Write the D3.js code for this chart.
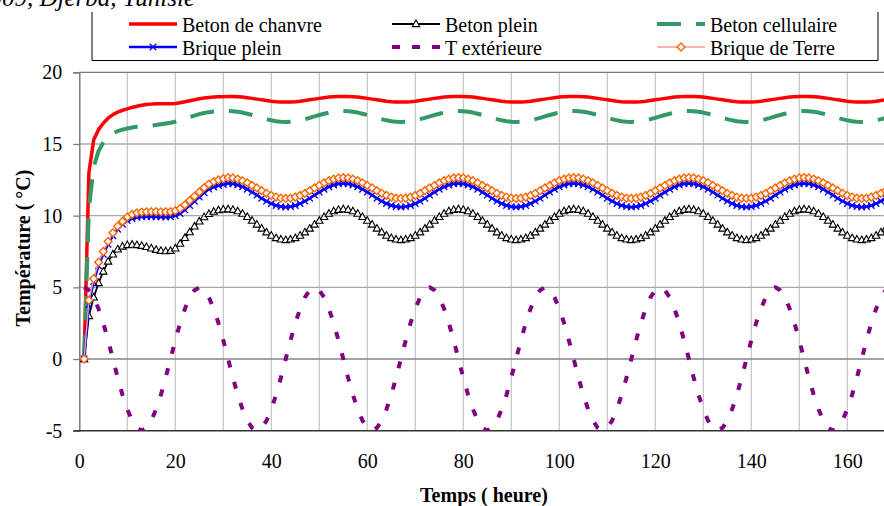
<!DOCTYPE html>
<html><head><meta charset="utf-8">
<script src="https://cdn.jsdelivr.net/npm/d3@7/dist/d3.min.js"></script>
<style>
body{margin:0;background:#fff}
svg{display:block}
text{font-family:"Liberation Serif","Times New Roman",serif;fill:#000}
</style>
</head><body>
<svg id="c" width="884" height="506"></svg>
<script>
// ---------- DATA ----------
const hours = d3.range(1, 170); // sample time (h), one sample per hour
const xTicks = [0, 20, 40, 60, 80, 100, 120, 140, 160];
const yTicks = [-5, 0, 5, 10, 15, 20];
const seriesNames = ["Beton de chanvre", "Beton plein", "Beton cellulaire", "Brique plein", "T extérieure", "Brique de Terre"];

const betonChanvre = [
0, 13.0, 15.3, 16.0, 16.45, 16.8, 17.05, 17.22, 17.35, 17.45, 17.55, 17.63, 17.7, 17.75, 17.78, 17.8, 17.8, 17.8, 17.81, 17.83, 17.88, 17.95, 18.02, 18.08, 18.15, 18.2, 18.24, 18.27, 18.29, 18.3,
18.31, 18.31, 18.3, 18.27, 18.23, 18.18, 18.13, 18.08, 18.03, 17.98, 17.95, 17.93, 17.92, 17.93, 17.95, 17.98, 18.03, 18.08, 18.13, 18.18, 18.23, 18.27, 18.3, 18.31,
18.31, 18.31, 18.3, 18.27, 18.23, 18.18, 18.13, 18.08, 18.03, 17.98, 17.95, 17.93, 17.92, 17.93, 17.95, 17.98, 18.03, 18.08, 18.13, 18.18, 18.23, 18.27, 18.3, 18.31,
18.31, 18.31, 18.3, 18.27, 18.23, 18.18, 18.13, 18.08, 18.03, 17.98, 17.95, 17.93, 17.92, 17.93, 17.95, 17.98, 18.03, 18.08, 18.13, 18.18, 18.23, 18.27, 18.3, 18.31,
18.31, 18.31, 18.3, 18.27, 18.23, 18.18, 18.13, 18.08, 18.03, 17.98, 17.95, 17.93, 17.92, 17.93, 17.95, 17.98, 18.03, 18.08, 18.13, 18.18, 18.23, 18.27, 18.3, 18.31,
18.31, 18.31, 18.3, 18.27, 18.23, 18.18, 18.13, 18.08, 18.03, 17.98, 17.95, 17.93, 17.92, 17.93, 17.95, 17.98, 18.03, 18.08, 18.13, 18.18, 18.23, 18.27, 18.3, 18.31,
18.31, 18.31, 18.3, 18.27, 18.23, 18.18, 18.13, 18.08, 18.03, 17.98, 17.95, 17.93, 17.92, 17.93, 17.95, 17.98, 18.03, 18.08, 18.13
];

const betonPlein = [
0, 3.0, 4.3, 5.3, 6.1, 6.8, 7.3, 7.65, 7.85, 7.95, 7.98, 7.95, 7.9, 7.82, 7.72, 7.62, 7.55, 7.52, 7.55, 7.72, 8.05, 8.45, 8.85, 9.25, 9.6, 9.9, 10.12, 10.28, 10.38, 10.43,
10.45, 10.41, 10.31, 10.14, 9.91, 9.65, 9.38, 9.10, 8.84, 8.61, 8.44, 8.34, 8.30, 8.34, 8.44, 8.61, 8.84, 9.10, 9.38, 9.65, 9.91, 10.14, 10.31, 10.41,
10.45, 10.41, 10.31, 10.14, 9.91, 9.65, 9.38, 9.10, 8.84, 8.61, 8.44, 8.34, 8.30, 8.34, 8.44, 8.61, 8.84, 9.10, 9.38, 9.65, 9.91, 10.14, 10.31, 10.41,
10.45, 10.41, 10.31, 10.14, 9.91, 9.65, 9.38, 9.10, 8.84, 8.61, 8.44, 8.34, 8.30, 8.34, 8.44, 8.61, 8.84, 9.10, 9.38, 9.65, 9.91, 10.14, 10.31, 10.41,
10.45, 10.41, 10.31, 10.14, 9.91, 9.65, 9.38, 9.10, 8.84, 8.61, 8.44, 8.34, 8.30, 8.34, 8.44, 8.61, 8.84, 9.10, 9.38, 9.65, 9.91, 10.14, 10.31, 10.41,
10.45, 10.41, 10.31, 10.14, 9.91, 9.65, 9.38, 9.10, 8.84, 8.61, 8.44, 8.34, 8.30, 8.34, 8.44, 8.61, 8.84, 9.10, 9.38, 9.65, 9.91, 10.14, 10.31, 10.41,
10.45, 10.41, 10.31, 10.14, 9.91, 9.65, 9.38, 9.10, 8.84, 8.61, 8.44, 8.34, 8.30, 8.34, 8.44, 8.61, 8.84, 9.10, 9.38
];

const betonCellulaire = [
0, 10.5, 13.4, 14.5, 15.1, 15.5, 15.75, 15.9, 16.0, 16.08, 16.15, 16.2, 16.22, 16.25, 16.28, 16.32, 16.38, 16.43, 16.48, 16.55, 16.65, 16.76, 16.88, 16.98, 17.08, 17.16, 17.22, 17.26, 17.28, 17.29,
17.30, 17.29, 17.25, 17.19, 17.11, 17.02, 16.92, 16.82, 16.73, 16.65, 16.59, 16.55, 16.54, 16.55, 16.59, 16.65, 16.73, 16.82, 16.92, 17.02, 17.11, 17.19, 17.25, 17.29,
17.30, 17.29, 17.25, 17.19, 17.11, 17.02, 16.92, 16.82, 16.73, 16.65, 16.59, 16.55, 16.54, 16.55, 16.59, 16.65, 16.73, 16.82, 16.92, 17.02, 17.11, 17.19, 17.25, 17.29,
17.30, 17.29, 17.25, 17.19, 17.11, 17.02, 16.92, 16.82, 16.73, 16.65, 16.59, 16.55, 16.54, 16.55, 16.59, 16.65, 16.73, 16.82, 16.92, 17.02, 17.11, 17.19, 17.25, 17.29,
17.30, 17.29, 17.25, 17.19, 17.11, 17.02, 16.92, 16.82, 16.73, 16.65, 16.59, 16.55, 16.54, 16.55, 16.59, 16.65, 16.73, 16.82, 16.92, 17.02, 17.11, 17.19, 17.25, 17.29,
17.30, 17.29, 17.25, 17.19, 17.11, 17.02, 16.92, 16.82, 16.73, 16.65, 16.59, 16.55, 16.54, 16.55, 16.59, 16.65, 16.73, 16.82, 16.92, 17.02, 17.11, 17.19, 17.25, 17.29,
17.30, 17.29, 17.25, 17.19, 17.11, 17.02, 16.92, 16.82, 16.73, 16.65, 16.59, 16.55, 16.54, 16.55, 16.59, 16.65, 16.73, 16.82, 16.92
];

const briquePlein = [
0, 3.8, 5.4, 6.5, 7.3, 8.0, 8.6, 9.05, 9.4, 9.65, 9.8, 9.88, 9.92, 9.93, 9.93, 9.92, 9.91, 9.9, 9.92, 10.0, 10.15, 10.4, 10.7, 11.0, 11.3, 11.6, 11.85, 12.0, 12.1, 12.17,
12.25, 12.22, 12.14, 12.01, 11.84, 11.64, 11.43, 11.21, 11.01, 10.84, 10.71, 10.63, 10.60, 10.63, 10.71, 10.84, 11.01, 11.21, 11.43, 11.64, 11.84, 12.01, 12.14, 12.22,
12.25, 12.22, 12.14, 12.01, 11.84, 11.64, 11.43, 11.21, 11.01, 10.84, 10.71, 10.63, 10.60, 10.63, 10.71, 10.84, 11.01, 11.21, 11.43, 11.64, 11.84, 12.01, 12.14, 12.22,
12.25, 12.22, 12.14, 12.01, 11.84, 11.64, 11.43, 11.21, 11.01, 10.84, 10.71, 10.63, 10.60, 10.63, 10.71, 10.84, 11.01, 11.21, 11.43, 11.64, 11.84, 12.01, 12.14, 12.22,
12.25, 12.22, 12.14, 12.01, 11.84, 11.64, 11.43, 11.21, 11.01, 10.84, 10.71, 10.63, 10.60, 10.63, 10.71, 10.84, 11.01, 11.21, 11.43, 11.64, 11.84, 12.01, 12.14, 12.22,
12.25, 12.22, 12.14, 12.01, 11.84, 11.64, 11.43, 11.21, 11.01, 10.84, 10.71, 10.63, 10.60, 10.63, 10.71, 10.84, 11.01, 11.21, 11.43, 11.64, 11.84, 12.01, 12.14, 12.22,
12.25, 12.22, 12.14, 12.01, 11.84, 11.64, 11.43, 11.21, 11.01, 10.84, 10.71, 10.63, 10.60, 10.63, 10.71, 10.84, 11.01, 11.21, 11.43
];

const tExterieure = [
5.0, 4.8, 4.3, 3.5, 2.5, 1.3, 0, -1.3, -2.5, -3.5, -4.3, -4.8, -5.0, -4.8, -4.3, -3.5, -2.5, -1.3, 0, 1.3, 2.5, 3.5, 4.3, 4.8,
5.0, 4.8, 4.3, 3.5, 2.5, 1.3, 0, -1.3, -2.5, -3.5, -4.3, -4.8, -5.0, -4.8, -4.3, -3.5, -2.5, -1.3, 0, 1.3, 2.5, 3.5, 4.3, 4.8,
5.0, 4.8, 4.3, 3.5, 2.5, 1.3, 0, -1.3, -2.5, -3.5, -4.3, -4.8, -5.0, -4.8, -4.3, -3.5, -2.5, -1.3, 0, 1.3, 2.5, 3.5, 4.3, 4.8,
5.0, 4.8, 4.3, 3.5, 2.5, 1.3, 0, -1.3, -2.5, -3.5, -4.3, -4.8, -5.0, -4.8, -4.3, -3.5, -2.5, -1.3, 0, 1.3, 2.5, 3.5, 4.3, 4.8,
5.0, 4.8, 4.3, 3.5, 2.5, 1.3, 0, -1.3, -2.5, -3.5, -4.3, -4.8, -5.0, -4.8, -4.3, -3.5, -2.5, -1.3, 0, 1.3, 2.5, 3.5, 4.3, 4.8,
5.0, 4.8, 4.3, 3.5, 2.5, 1.3, 0, -1.3, -2.5, -3.5, -4.3, -4.8, -5.0, -4.8, -4.3, -3.5, -2.5, -1.3, 0, 1.3, 2.5, 3.5, 4.3, 4.8,
5.0, 4.8, 4.3, 3.5, 2.5, 1.3, 0, -1.3, -2.5, -3.5, -4.3, -4.8, -5.0, -4.8, -4.3, -3.5, -2.5, -1.3, 0, 1.3, 2.5, 3.5, 4.3, 4.8,
5.0
];

const briqueTerre = [
0, 4.1, 5.6, 6.75, 7.5, 8.2, 8.8, 9.27, 9.6, 9.9, 10.09, 10.2, 10.25, 10.27, 10.28, 10.28, 10.27, 10.27, 10.28, 10.35, 10.5, 10.75, 11.05, 11.35, 11.65, 11.95, 12.2, 12.38, 12.5, 12.58,
12.65, 12.63, 12.55, 12.44, 12.29, 12.11, 11.93, 11.74, 11.56, 11.41, 11.30, 11.22, 11.20, 11.22, 11.30, 11.41, 11.56, 11.74, 11.93, 12.11, 12.29, 12.44, 12.55, 12.63,
12.65, 12.63, 12.55, 12.44, 12.29, 12.11, 11.93, 11.74, 11.56, 11.41, 11.30, 11.22, 11.20, 11.22, 11.30, 11.41, 11.56, 11.74, 11.93, 12.11, 12.29, 12.44, 12.55, 12.63,
12.65, 12.63, 12.55, 12.44, 12.29, 12.11, 11.93, 11.74, 11.56, 11.41, 11.30, 11.22, 11.20, 11.22, 11.30, 11.41, 11.56, 11.74, 11.93, 12.11, 12.29, 12.44, 12.55, 12.63,
12.65, 12.63, 12.55, 12.44, 12.29, 12.11, 11.93, 11.74, 11.56, 11.41, 11.30, 11.22, 11.20, 11.22, 11.30, 11.41, 11.56, 11.74, 11.93, 12.11, 12.29, 12.44, 12.55, 12.63,
12.65, 12.63, 12.55, 12.44, 12.29, 12.11, 11.93, 11.74, 11.56, 11.41, 11.30, 11.22, 11.20, 11.22, 11.30, 11.41, 11.56, 11.74, 11.93, 12.11, 12.29, 12.44, 12.55, 12.63,
12.65, 12.63, 12.55, 12.44, 12.29, 12.11, 11.93, 11.74, 11.56, 11.41, 11.30, 11.22, 11.20, 11.22, 11.30, 11.41, 11.56, 11.74, 11.93
];

// ---------- STYLES ----------
const styles = [
  {values: betonChanvre,    color: "#ff0000", width: 3.5, dash: null,    marker: null},
  {values: betonPlein,      color: "#000000", width: 1.8, dash: null,    marker: "triangle"},
  {values: betonCellulaire, color: "#339966", width: 4,   dash: "24,15", marker: null},
  {values: briquePlein,     color: "#0000ff", width: 2.5, dash: null,    marker: "cross"},
  {values: tExterieure,     color: "#800080", width: 4,   dash: "7,15",  marker: null},
  {values: briqueTerre,     color: "#ff9999", width: 1.5, dash: null,    marker: "diamond"}
];

// ---------- CHART ----------
const svg = d3.select("#c");
const x = d3.scaleLinear().domain([0, 180]).range([79.3, 943.3]);
const y = d3.scaleLinear().domain([-5, 20]).range([430.7, 72.3]);

svg.append("defs").append("clipPath").attr("id", "clip")
  .append("rect").attr("x", x(0)).attr("y", y(20) - 1)
  .attr("width", x(180) - x(0)).attr("height", y(-5) - y(20) + 1);

// vertical gridlines
svg.append("g").selectAll("line").data(x.ticks(18).filter(d => d > 0)).join("line")
  .attr("x1", d => x(d)).attr("x2", d => x(d)).attr("y1", y(20)).attr("y2", y(-5))
  .attr("stroke", "#c4c4c4").attr("stroke-width", 1.2);
// horizontal gridlines
svg.append("g").selectAll("line").data(yTicks.filter(d => d > -5 && d < 20)).join("line")
  .attr("x1", x(0)).attr("x2", 884).attr("y1", d => y(d)).attr("y2", d => y(d))
  .attr("stroke", d => d === 0 ? "#858585" : "#a8a8a8").attr("stroke-width", 1.3);
// top border
svg.append("line").attr("x1", x(0)).attr("x2", 884).attr("y1", y(20)).attr("y2", y(20))
  .attr("stroke", "#7a7a7a").attr("stroke-width", 1.3);

// axes
const yAxis = svg.append("g").attr("transform", `translate(${x(0)},0)`)
  .call(d3.axisLeft(y).tickValues(yTicks).tickSize(6).tickPadding(11).tickFormat(d => String(d)));
yAxis.select(".domain").attr("stroke", "#7a7a7a").attr("stroke-width", 1.5);
yAxis.selectAll(".tick line").attr("stroke", "#7a7a7a").attr("stroke-width", 1.3);
yAxis.selectAll("text").attr("font-size", 20).attr("font-family", "Liberation Serif").attr("fill", "#000");

const xAxis = svg.append("g").attr("transform", `translate(0,${y(-5)})`)
  .call(d3.axisBottom(x).tickValues(xTicks).tickSize(0).tickPadding(23).tickFormat(d => String(d)));
xAxis.select(".domain").remove();
xAxis.selectAll("text").attr("font-size", 20).attr("font-family", "Liberation Serif").attr("fill", "#000");
svg.append("line").attr("x1", x(0) - 6).attr("x2", 884).attr("y1", y(-5)).attr("y2", y(-5))
  .attr("stroke", "#333").attr("stroke-width", 1.6);

// axis titles
svg.append("text").attr("x", 484).attr("y", 502).attr("text-anchor", "middle")
  .attr("font-size", 20).attr("font-weight", "bold").text("Temps ( heure)");
svg.append("text").attr("transform", "translate(30,248) rotate(-90)").attr("text-anchor", "middle")
  .attr("font-size", 20).attr("font-weight", "bold").text("Température ( °C)");

// series
const plot = svg.append("g").attr("clip-path", "url(#clip)");
const line = d3.line().x((d, i) => x(hours[i])).y(d => y(d));

function drawMarker(g, type, cx, cy) {
  if (type === "triangle") {
    g.append("path").attr("d", `M${cx},${cy - 4}L${cx + 3.7},${cy + 2.6}L${cx - 3.7},${cy + 2.6}Z`)
      .attr("fill", "#fff").attr("stroke", "#000").attr("stroke-width", 1.1);
  } else if (type === "cross") {
    g.append("path").attr("d", `M${cx - 3.2},${cy - 3.2}L${cx + 3.2},${cy + 3.2}M${cx - 3.2},${cy + 3.2}L${cx + 3.2},${cy - 3.2}`)
      .attr("stroke", "#0000ff").attr("stroke-width", 1.3).attr("fill", "none");
  } else if (type === "diamond") {
    g.append("path").attr("d", `M${cx},${cy - 3.9}L${cx + 3.9},${cy}L${cx},${cy + 3.9}L${cx - 3.9},${cy}Z`)
      .attr("fill", "#fff").attr("stroke", "#ff6600").attr("stroke-width", 1.4);
  }
}

styles.forEach(s => {
  const p = plot.append("path").datum(s.values).attr("d", line)
    .attr("fill", "none").attr("stroke", s.color).attr("stroke-width", s.width)
    .attr("stroke-linejoin", "round");
  if (s.dash) p.attr("stroke-dasharray", s.dash);
  if (s.marker) {
    const mg = plot.append("g");
    s.values.forEach((v, i) => drawMarker(mg, s.marker, x(hours[i]), y(v)));
  }
});

// legend
const legendCols = [129, 392, 657];
const legendRows = [24, 47];
const legendPos = [[0, 0], [0, 1], [0, 2], [1, 0], [1, 1], [1, 2]]; // [row, col] by series index
svg.append("path").attr("d", "M92,12V60.5H878V12").attr("fill", "none").attr("stroke", "#000").attr("stroke-width", 1);
styles.forEach((s, i) => {
  const [r, c] = legendPos[i];
  const lx = legendCols[c], ly = legendRows[r];
  const g = svg.append("g");
  const l = g.append("line").attr("x1", lx).attr("x2", lx + 48).attr("y1", ly).attr("y2", ly)
    .attr("stroke", s.color).attr("stroke-width", s.width);
  if (i === 4) l.attr("stroke-dasharray", "8,12");
  else if (s.dash) l.attr("stroke-dasharray", s.dash);
  if (s.marker) drawMarker(g, s.marker, lx + 24, ly);
  g.append("text").attr("x", lx + 53).attr("y", ly + 7.5).attr("font-size", 20).text(seriesNames[i]);
});

// title (partially outside the picture, as in the original)
svg.append("text").attr("x", 195).attr("y", 6).attr("text-anchor", "end")
  .attr("font-size", 25).attr("font-style", "italic").text("Juillet 2009, Djerba, Tunisie");
</script>
</body></html>
